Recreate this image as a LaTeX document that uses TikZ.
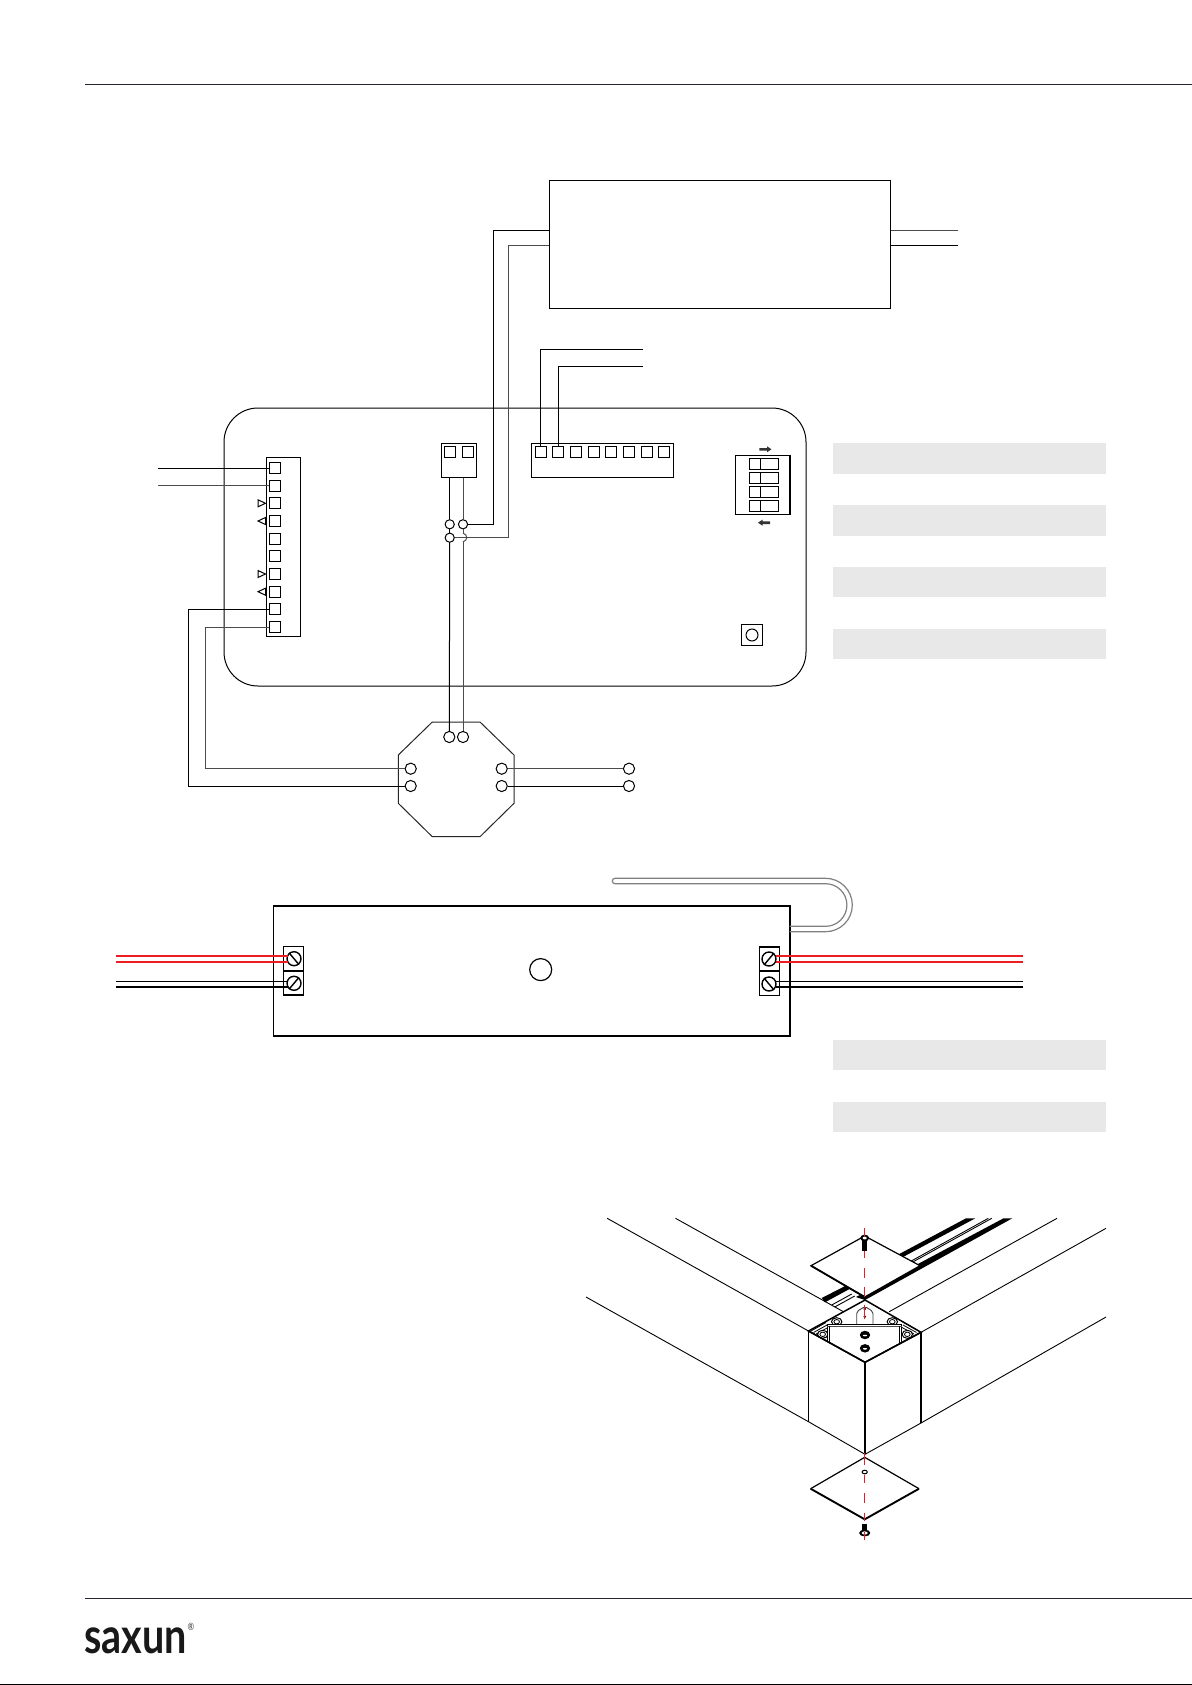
\documentclass[tikz,border=0pt]{standalone}
\usepackage{fontspec}
\newfontfamily\logofont[FakeStretch=0.8]{Lato}
\definecolor{lampred}{RGB}{237,28,36}
\definecolor{rulecol}{RGB}{35,38,46}
\tikzset{
  pin/.style={draw=black, fill=white, line width=0.5pt, minimum size=5.5pt, inner sep=0pt},
  hole/.style={circle, draw=black, fill=white, line width=0.5pt, minimum size=4.6pt, inner sep=0pt},
  port/.style={circle, draw=black, fill=white, line width=0.5pt, minimum size=5.6pt, inner sep=0pt},
  screw/.style={circle, draw=black, line width=0.7pt, minimum size=7pt, inner sep=0pt},
  block/.style={draw=black, line width=0.7pt, minimum width=10pt, minimum height=12pt, inner sep=0pt},
  wire/.style={line width=0.5pt, black},
  wiregrey/.style={line width=0.5pt, black!70},
  band/.style={fill=black!9, draw=none, minimum width=136.5pt, minimum height=15.2pt, inner sep=0pt},
  redthin/.style={line width=0.6pt, lampred},
  redthick/.style={line width=1.1pt, lampred},
  blackthin/.style={line width=0.6pt, black},
  blackthick/.style={line width=1.1pt, black},
  cable/.style={line width=0.6pt, black!50},
  axis/.style={line width=0.55pt, lampred},
  iso/.style={line width=0.45pt, black},
  post/.style={line width=0.75pt, black},
}
\begin{document}
\begin{tikzpicture}[x=0.5pt, y=-0.5pt]
\useasboundingbox (0,0) rectangle (1192,1685);

% page rules
\coordinate (headL) at (85,85);
\coordinate (headR) at (1192,85);
\coordinate (footL) at (85,1598.3);
\coordinate (footR) at (1192,1598.3);
\draw[line width=0.5pt, rulecol] (headL) -- (headR);
\draw[line width=0.5pt, rulecol] (footL) -- (footR);
\fill[black] (0,1684) rectangle (1192,1685);

% logo
\node[font=\logofont\bfseries\fontsize{24.7}{24.7}\selectfont, anchor=base west, inner sep=0pt, black!90] (logo) at (84,1653.3) {saxun};
\node[font=\logofont\fontsize{5}{5}\selectfont, inner sep=0pt, black!80] (logomark) at (191,1627) {\textregistered};

% grey bands
\foreach \n/\y in {a/458.5, b/520.3, c/582, d/644, e/1055, f/1117}
    \node[band] (band\n) at (969.5,\y) {};

% driver box
\node[draw=black, line width=0.5pt, minimum width=170.5pt, minimum height=64pt, inner sep=0pt] (driver) at (720.2,244.5) {};
\coordinate (driverA) at (549,231);
\coordinate (driverB) at (549,246);
\coordinate (driverC) at (891,231);
\coordinate (driverD) at (891,246);
\coordinate (mainsA) at (958,231);
\coordinate (mainsB) at (958,246);
\draw[wiregrey] (driverC) -- (mainsA);
\draw[wire] (driverD) -- (mainsB);

% controller board
\node[draw=black, line width=0.5pt, rounded corners=17pt, minimum width=291pt, minimum height=139pt, inner sep=0pt] (board) at (515,547) {};
\node[draw=black, line width=0.5pt, minimum width=17pt, minimum height=89.5pt, inner sep=0pt] (leftstrip) at (283,546.5) {};
\node[draw=black, line width=0.5pt, minimum width=17.6pt, minimum height=17.3pt, inner sep=0pt] (pairblock) at (458.6,460.3) {};
\node[draw=black, line width=0.5pt, minimum width=70.8pt, minimum height=17pt, inner sep=0pt] (topstrip) at (602.3,460.2) {};

% left terminals
\foreach \i/\y in {1/468, 2/485.7, 3/503.3, 4/521, 5/538.7, 6/556.3, 7/574, 8/591.7, 9/609.3, 10/627}
    \node[pin] (L\i) at (274.9,\y) {};
% top terminals
\foreach \i/\x in {1/540.7, 2/558.4, 3/576, 4/593.7, 5/611.3, 6/629, 7/646.6, 8/664.3}
    \node[pin] (T\i) at (\x,452.3) {};
\node[pin] (P1) at (450,452.3) {};
\node[pin] (P2) at (467.6,452.3) {};

% direction marks
\foreach \y in {503.3, 574}
    \draw[line width=0.5pt] (258,\y-3.5) -- (265.5,\y) -- (258,\y+3.5) -- cycle;
\foreach \y in {521, 591.7}
    \draw[line width=0.5pt] (265.5,\y-3.5) -- (258,\y) -- (265.5,\y+3.5) -- cycle;

% dip switch
\node[draw=black, line width=0.7pt, minimum width=27.1pt, minimum height=29.5pt, inner sep=0pt] (dip) at (762.8,484.8) {};
\foreach \i/\y in {1/463.7, 2/477.8, 3/491.8, 4/505.8} {
    \node[draw=black, line width=0.6pt, minimum width=14.2pt, minimum height=5.5pt, inner sep=0pt] (S\i) at (763.9,\y) {};
    \draw[line width=0.6pt] (760.7,\y-5.5) -- (760.7,\y+5.5);
}
\fill[black!80] (759.3,448) -- (767,448) -- (767,446.3) -- (771.5,449.3) -- (767,452.3) -- (767,450.6) -- (759.3,450.6) -- cycle;
\fill[black!80] (770,521.4) -- (762.5,521.4) -- (762.5,519.7) -- (758,522.7) -- (762.5,525.7) -- (762.5,524) -- (770,524) -- cycle;

% push button
\node[draw=black, line width=0.5pt, minimum size=10.7pt, inner sep=0pt] (button) at (752,635) {};
\node[circle, draw=black, line width=0.5pt, minimum size=6pt, inner sep=0pt] (buttoncap) at (752,635) {};

% junction box
\draw[line width=0.5pt, black!85] (432.3,722) -- (480,722) -- (514,755) -- (514,803.3) -- (480,836.7) -- (432.3,836.7) -- (398.3,803.3) -- (398.3,755) -- cycle;
\node[port] (O1) at (449.3,737) {};
\node[port] (O2) at (463,737) {};
\node[port] (E1) at (410.7,768.7) {};
\node[port] (E2) at (410.7,786) {};
\node[port] (R1) at (501.7,768.7) {};
\node[port] (R2) at (501.7,786) {};
\node[port] (X1) at (629,768.7) {};
\node[port] (X2) at (629,786) {};
\draw[wiregrey] (R1) -- (X1);
\draw[wire] (R2) -- (X2);

% wiring inside the board
\node[hole] (J1) at (449.7,524.3) {};
\node[hole] (J2) at (463,524.3) {};
\node[hole] (J3) at (449.7,537.7) {};
\coordinate (bumpA) at (463,533);
\coordinate (bumpB) at (463,542);
\coordinate (blockA) at (449.7,477.7);
\coordinate (blockB) at (463,477.7);
\coordinate (riseA) at (493.7,524.3);
\coordinate (riseB) at (508,537.7);
\coordinate (topA) at (493.7,231);
\coordinate (topB) at (508,246);
\draw[wire] (blockA) -- (J1);
\draw[wire] (J1) -- (J3);
\draw[wire] (J3) -- (O1);
\draw[wiregrey] (blockB) -- (J2);
\draw[wiregrey] (J2) -- (bumpA);
\draw[wiregrey] (bumpA) .. controls (468,535) and (468,540) .. (bumpB);
\draw[wiregrey] (bumpB) -- (O2);
\draw[wire] (J2) -- (riseA) -- (topA) -- (driverA);
\draw[wiregrey] (J3) -- (riseB) -- (topB) -- (driverB);

% control wires
\coordinate (ctrlA) at (643,349.5);
\coordinate (ctrlB) at (643,366.5);
\coordinate (ctrlC) at (540.7,349.5);
\coordinate (ctrlD) at (558.4,366.5);
\draw[wire] (T1) -- (ctrlC) -- (ctrlA);
\draw[wire] (T2) -- (ctrlD) -- (ctrlB);
\coordinate (feedA) at (157.5,468);
\coordinate (feedB) at (158,485.7);
\draw[wire] (feedA) -- (L1);
\draw[wiregrey] (feedB) -- (L2);
\coordinate (downA) at (188.5,609.3);
\coordinate (downB) at (205.7,627);
\coordinate (backA) at (188.5,786);
\coordinate (backB) at (205.7,768.7);
\draw[wire] (L9) -- (downA) -- (backA) -- (E2);
\draw[wiregrey] (L10) -- (downB) -- (backB) -- (E1);

% lamp driver box
\node[draw=black, line width=0.6pt, minimum width=258.3pt, minimum height=65pt, inner sep=0pt] (ledbox) at (531.6,971) {};
\node[circle, draw=black, line width=0.6pt, minimum size=11pt, inner sep=0pt] (lens) at (540.7,969.6) {};
\draw[cable] (789.7,931.7) -- (825.6,931.7) arc[start angle=-90, end angle=90, radius=13.35pt] -- (615,878.3) arc[start angle=90, end angle=270, radius=1.35pt] -- (825.6,883.7) arc[start angle=90, end angle=-90, radius=10.65pt] -- (789.7,926.3);
\node[block] (blockL1) at (293.7,958.7) {};
\node[block] (blockL2) at (293.7,983) {};
\node[block] (blockR1) at (769.3,959) {};
\node[block] (blockR2) at (769.3,983.7) {};
\node[screw] (screwL1) at (294,958.7) {};
\node[screw] (screwL2) at (294,983.3) {};
\node[screw] (screwR1) at (769,959) {};
\node[screw] (screwR2) at (769,984) {};
\draw[line width=0.7pt] (screwL1.130) -- (screwL1.-50);
\draw[line width=0.7pt] (screwL2.-130) -- (screwL2.50);
\draw[line width=0.7pt] (screwR1.-130) -- (screwR1.50);
\draw[line width=0.7pt] (screwR2.130) -- (screwR2.-50);
\foreach \n/\y/\s in {a/956/redthin, b/961.7/redthick, c/981.7/blackthin, d/987/blackthick} {
    \coordinate (inL\n) at (116,\y);
    \coordinate (inR\n) at (288,\y);
    \coordinate (outL\n) at (776,\y);
    \coordinate (outR\n) at (1023,\y);
    \draw[\s] (inL\n) -- (inR\n);
    \draw[\s] (outL\n) -- (outR\n);
}

% corner profile: beams
\draw[iso] (607.2,1218.3) -- (808.5,1331);
\draw[iso] (675.5,1218.3) -- (843.4,1311.7);
\draw[iso] (586,1297) -- (808.5,1421.7) -- (865,1454.3) -- (921,1423) -- (1106,1317);
\draw[iso] (921,1332.3) -- (1106,1228.3);
\draw[iso] (889.2,1311.7) -- (1057,1218.3);
% track in the beams
\fill[black] (966,1218.3) -- (975.3,1218.3) -- (893.6,1262) -- (884.3,1262) -- cycle;
\fill[black] (1003.5,1218.3) -- (1012.3,1218.3) -- (865,1300) -- (856,1297) -- cycle;
\fill[black] (821.7,1298) -- (851,1283) -- (855,1286) -- (825,1302.3) -- cycle;
\draw[iso] (991.7,1218.3) -- (913.3,1261.7);
\draw[iso] (988.3,1218.3) -- (910,1261.7);
\draw[iso] (831.7,1305) -- (851.7,1294);
\draw[iso] (834.7,1307) -- (854.7,1296);
% top plate
\draw[line width=0.6pt, fill=white] (864.7,1236) -- (920,1265.7) -- (864.7,1297) -- (811,1265.7) -- cycle;
\draw[line width=0.9pt] (811,1265.7) -- (864.7,1297);

% corner post
\draw[post] (865,1300) -- (808.5,1331) -- (865,1362.3) -- (921,1332.3) -- cycle;
\draw[post] (808.5,1331) -- (808.5,1421.7);
\draw[post] (921,1332.3) -- (921,1423);
\draw[line width=0.6pt] (865,1362.3) -- (865,1454.3);
% corner hatching
\foreach \xa/\ya/\xb/\yb in {811/1331/826/1322.5, 813.5/1332.5/827/1325, 816/1334/828/1327.5,
                             919/1331/904/1322.5, 916.5/1332.5/903/1325, 914/1334/902/1327.5}
    \draw[line width=0.4pt] (\xa,\ya) -- (\xb,\yb);
% bolts
\foreach \x/\y in {822.7/1334.3, 836.7/1321.7, 892.3/1321.7, 907.3/1334.3} {
    \draw[line width=0.5pt, fill=white] (\x,\y) circle[x radius=2.6pt, y radius=2pt];
    \draw[line width=0.4pt] (\x,\y) circle[x radius=1.4pt, y radius=1.1pt];
}
% bracket
\draw[line width=0.45pt, black!75, fill=white, rounded corners=1pt] (856.7,1324) -- (856.7,1311.5) -- (865,1306.5) -- (873,1311.5) -- (873,1324);
\fill[black] (864.7,1309) circle[radius=0.7pt];
\fill[black] (864.7,1316.7) circle[radius=0.7pt];
% shelf
\draw[line width=0.55pt, fill=white] (827.3,1342) -- (827.3,1324.5) -- (901.7,1324.5) -- (901.7,1342);
\draw[line width=0.5pt, black!70] (827.3,1326.3) -- (901.7,1326.3);
\draw[line width=0.5pt] (829.5,1326.3) -- (829.5,1343);
\draw[line width=0.5pt] (899.5,1326.3) -- (899.5,1343);
\draw[post] (808.5,1331) -- (865,1362.3) -- (921,1332.3);
\foreach \y in {1335, 1348.3} {
    \fill[black] (865,\y) circle[x radius=2.6pt, y radius=2.1pt];
    \fill[white] (865,\y+0.5) circle[x radius=1.1pt, y radius=0.4pt];
}

% bottom plate
\draw[line width=0.6pt] (810.6,1488.7) -- (864.7,1457.3) -- (919,1488.7);
\draw[line width=0.95pt] (810.6,1488.7) -- (864.7,1519.3) -- (919,1488.7);
\draw[line width=0.5pt] (864.7,1472) circle[x radius=1.3pt, y radius=0.9pt];

% screws
\fill[black] (862.4,1240) rectangle (867,1250.7);
\fill[black] (864.7,1238) circle[x radius=2.2pt, y radius=1.7pt];
\fill[white] (864.7,1238) circle[x radius=1pt, y radius=0.7pt];
\fill[black] (862.4,1524) rectangle (867,1532);
\fill[black] (864.7,1533) circle[x radius=2.8pt, y radius=1.7pt];
\fill[white] (864.7,1533) circle[x radius=1.5pt, y radius=0.8pt];

% axis
\foreach \ya/\yb in {1228.3/1236, 1250.7/1257.7, 1267.7/1278.3, 1286.7/1297.3, 1305/1319,
                     1453/1465, 1475/1483, 1493.3/1503.3, 1513/1521, 1532/1540}
    \draw[axis] (864.7,\ya) -- (864.7,\yb);
\end{tikzpicture}
\end{document}
